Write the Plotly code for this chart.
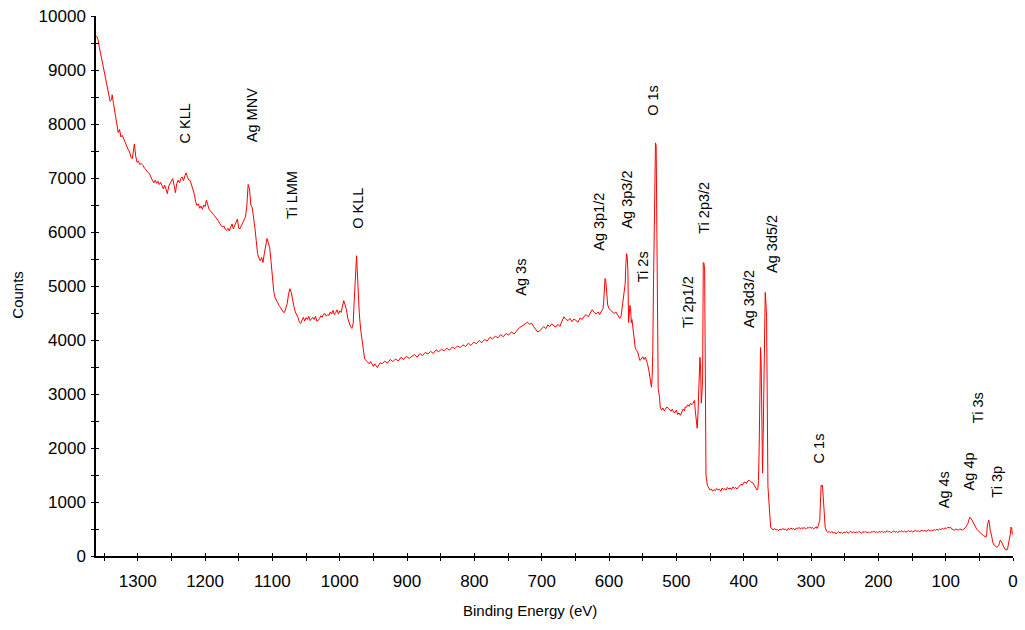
import plotly.graph_objects as go

# XPS survey spectrum: binding energy (eV) and counts
energy = [
    1361, 1359, 1357, 1355, 1353, 1351, 1349, 1347, 1345, 1343, 1341, 1339, 1338, 1336,
    1333, 1331, 1329, 1327, 1325, 1323, 1320, 1318, 1316, 1314, 1312, 1310, 1308, 1306,
    1305, 1303, 1301, 1299, 1297, 1295, 1292, 1290, 1288, 1286, 1284, 1282, 1280, 1278,
    1276, 1274, 1272, 1270, 1268, 1266, 1264, 1262, 1260, 1258, 1256, 1254, 1252, 1250,
    1248, 1246, 1244, 1242, 1240, 1238, 1236, 1234, 1232, 1230, 1228, 1226, 1224, 1222,
    1220, 1218, 1216, 1214, 1212, 1210, 1208, 1206, 1204, 1202, 1200, 1198, 1196, 1194,
    1192, 1190, 1188, 1186, 1184, 1182, 1180, 1178, 1176, 1174, 1172, 1170, 1168, 1166,
    1164, 1162, 1160, 1158, 1156, 1154, 1152, 1150, 1148, 1146, 1144, 1142, 1140, 1138,
    1137, 1136, 1134, 1132, 1130, 1128, 1126, 1124, 1122, 1120, 1118, 1116, 1114, 1112,
    1110, 1108, 1106, 1104, 1102, 1100, 1098, 1096, 1094, 1092, 1090, 1088, 1086, 1084,
    1082, 1080, 1078, 1076, 1074, 1072, 1070, 1068, 1066, 1064, 1062, 1060, 1058, 1056,
    1054, 1052, 1050, 1048, 1046, 1044, 1042, 1040, 1038, 1036, 1034, 1032, 1030, 1028,
    1026, 1024, 1022, 1020, 1018, 1016, 1014, 1012, 1010, 1008, 1006, 1004, 1002, 1000,
    998, 996, 994, 992, 990, 988, 986, 984, 982, 980, 979, 977, 976, 975, 974, 973,
    971, 969, 967, 965, 963, 961, 958, 956, 954, 952, 950, 948, 946, 944, 942, 940,
    937, 933, 929, 925, 921, 917, 913, 909, 905, 901, 897, 893, 889, 885, 881, 877,
    873, 869, 865, 861, 857, 853, 849, 845, 841, 837, 833, 829, 825, 821, 817, 813,
    809, 805, 801, 797, 793, 789, 785, 781, 777, 773, 769, 765, 761, 757, 753, 749,
    745, 741, 737, 733, 729, 725, 721, 718, 715, 712, 709, 706, 703, 700, 697, 694,
    691, 688, 685, 682, 679, 676, 673, 670, 667, 664, 661, 658, 655, 652, 649, 646,
    643, 640, 637, 634, 631, 628, 625, 622, 619, 616, 614, 611, 609, 608, 607, 606,
    605, 604, 602, 600, 598, 596, 594, 592, 590, 588, 586, 584, 582, 581, 579, 578,
    576, 575, 574, 573, 572, 571, 570, 569, 568, 567, 566, 564, 562, 561, 559, 557,
    556, 554, 552, 550, 548, 546, 544, 543, 541, 539, 538, 537, 536, 535, 534, 533,
    532, 531, 530, 529, 528, 527, 525, 524, 522, 520, 518, 516, 514, 512, 510, 508,
    506, 504, 502, 500, 498, 496, 494, 492, 490, 488, 487, 485, 483, 481, 479, 477,
    475, 474, 473, 472, 471, 470, 469, 468, 467, 466, 465, 464, 463, 462, 461, 460,
    459, 458, 457, 456, 454, 452, 450, 448, 446, 444, 442, 440, 438, 436, 434, 432,
    430, 428, 426, 424, 422, 420, 418, 416, 414, 412, 410, 408, 406, 404, 402, 400,
    398, 396, 394, 392, 390, 388, 386, 384, 382, 381, 380, 379, 378, 377, 376, 375,
    374, 373, 372, 371, 370, 369, 368, 367, 366, 364, 362, 360, 358, 356, 354, 352,
    350, 348, 346, 344, 342, 340, 338, 336, 334, 332, 330, 328, 326, 324, 322, 320,
    318, 316, 314, 312, 310, 308, 306, 304, 302, 300, 298, 296, 294, 292, 291, 290,
    289, 288, 287, 286, 285, 284, 283, 281, 279, 277, 275, 273, 271, 269, 267, 265,
    263, 261, 259, 257, 255, 253, 251, 249, 247, 245, 243, 241, 239, 237, 235, 233,
    231, 229, 227, 225, 223, 221, 219, 217, 215, 213, 211, 209, 207, 205, 203, 201,
    199, 197, 195, 193, 191, 189, 187, 185, 183, 181, 179, 177, 175, 173, 171, 169,
    167, 165, 163, 161, 159, 157, 155, 153, 151, 149, 147, 145, 143, 141, 139, 137,
    135, 133, 131, 129, 127, 125, 123, 121, 119, 117, 115, 113, 111, 109, 107, 105,
    103, 101, 99, 97, 95, 93, 91, 89, 87, 85, 83, 81, 79, 77, 75, 73,
    71, 69, 67, 66, 65, 64, 62, 60, 58, 56, 54, 52, 50, 48, 46, 44,
    42, 41, 40, 39, 38, 37, 36, 35, 34, 32, 30, 28, 26, 24, 22, 21,
    20, 19, 17, 15, 13, 12, 10, 9, 8, 7, 6, 5, 4, 3, 2, 1,
]

counts = [
    9630, 9560, 9420, 9300, 9200, 9020, 8950, 8820, 8650, 8560, 8420, 8450, 8540, 8380,
    8150, 8060, 7840, 7900, 7760, 7790, 7700, 7620, 7590, 7520, 7480, 7380, 7360, 7520,
    7630, 7400, 7290, 7310, 7250, 7270, 7230, 7180, 7160, 7120, 7100, 7060, 6990, 6950,
    6910, 6960, 6900, 6940, 6880, 6920, 6860, 6800, 6870, 6760, 6710, 6850, 6900, 6930,
    6990, 6860, 6730, 6900, 6960, 6910, 6990, 7020, 6950, 7040, 7095, 7010, 6960, 6950,
    6880, 6800, 6700, 6560, 6490, 6520, 6440, 6480, 6420, 6500, 6470, 6590, 6500, 6420,
    6390, 6350, 6330, 6300, 6270, 6240, 6200, 6150, 6120, 6090, 6110, 6050, 6030, 6070,
    6020, 6080, 6150, 6060, 6110, 6180, 6240, 6070, 6060, 6120, 6170, 6200, 6280, 6480,
    6700, 6880, 6800, 6500, 6450, 6300, 6080, 5840, 5600, 5520, 5470, 5530, 5435, 5600,
    5720, 5880, 5800, 5710, 5450, 5155, 4900, 4785, 4730, 4690, 4640, 4600, 4560, 4520,
    4510, 4580, 4675, 4850, 4950, 4880, 4730, 4620, 4520, 4480, 4420, 4330, 4305, 4370,
    4420, 4350, 4415, 4380, 4440, 4360, 4400, 4420, 4380, 4440, 4350, 4360, 4400, 4450,
    4420, 4480, 4490, 4440, 4470, 4455, 4520, 4480, 4550, 4470, 4510, 4560, 4480, 4540,
    4510, 4620, 4730, 4650, 4560, 4400, 4305, 4250, 4215, 4300, 4600, 5100, 5525, 5560,
    5300, 4970, 4500, 4200, 4000, 3750, 3650, 3620, 3580, 3560, 3600, 3540, 3510, 3560,
    3520, 3490, 3540, 3580, 3560, 3610, 3570, 3640, 3600, 3650, 3610, 3680, 3640, 3700,
    3660, 3690, 3730, 3680, 3750, 3710, 3770, 3740, 3790, 3750, 3820, 3780, 3830, 3800,
    3850, 3810, 3870, 3840, 3890, 3860, 3910, 3880, 3940, 3900, 3960, 3930, 3990, 3950,
    4010, 3980, 4050, 4020, 4070, 4040, 4100, 4060, 4120, 4090, 4150, 4110, 4180, 4230,
    4260, 4300, 4330, 4290, 4310, 4250, 4190, 4150, 4170, 4220, 4250, 4210, 4280, 4250,
    4300, 4260, 4240, 4290, 4250, 4350, 4430, 4380, 4360, 4400, 4340, 4390, 4360, 4330,
    4410, 4380, 4440, 4470, 4430, 4500, 4560, 4510, 4480, 4520, 4470, 4540, 4580, 4700,
    4860, 5140, 5120, 4900, 4650, 4580, 4550, 4540, 4510, 4490, 4520, 4480, 4430, 4400,
    4450, 4550, 4695, 4900, 5045, 5400, 5600, 5550, 5285, 4325, 4500, 4640, 4600, 4320,
    4380, 4150, 3935, 3850, 3805, 3760, 3700, 3620, 3650, 3690, 3640, 3680, 3600, 3565,
    3450, 3310, 3200, 3125, 3300, 3810, 5000, 6210, 6800, 7650, 7600, 6155, 3490, 3100,
    2940, 2760, 2700, 2740, 2690, 2720, 2760, 2735, 2700, 2680, 2720, 2660, 2660, 2700,
    2620, 2650, 2605, 2680, 2720, 2690, 2760, 2755, 2800, 2770, 2830, 2800, 2830, 2870,
    2880, 2700, 2550, 2460, 2365, 2600, 3100, 3565, 3680, 3500, 2830, 3000, 3300, 5435,
    5420, 5300, 2830, 1500, 1310, 1250, 1220, 1240, 1200, 1230, 1210, 1250, 1220, 1240,
    1200, 1260, 1230, 1250, 1220, 1270, 1240, 1260, 1230, 1280, 1250, 1270, 1240, 1275,
    1300, 1330, 1310, 1360, 1370, 1340, 1390, 1405, 1380, 1360, 1350, 1300, 1260, 1230,
    1220, 1250, 1400, 2015, 3200, 3860, 3560, 2500, 1535, 2270, 3500, 4400, 4880, 4700,
    4415, 1290, 800, 535, 500, 480, 510, 480, 490, 470, 500, 480, 510, 490, 500, 470,
    510, 490, 520, 495, 510, 480, 520, 500, 530, 505, 520, 510, 530, 500, 525, 515,
    540, 510, 530, 505, 520, 540, 510, 530, 560, 620, 665, 1000, 1310, 1290, 1310, 900,
    535, 460, 440, 450, 430, 455, 420, 445, 410, 430, 450, 425, 440, 415, 445, 430,
    455, 420, 440, 460, 430, 450, 425, 445, 430, 455, 440, 420, 450, 435, 460, 430,
    445, 425, 450, 440, 465, 435, 450, 430, 455, 440, 460, 435, 450, 440, 470, 445,
    455, 430, 450, 465, 440, 455, 435, 460, 450, 470, 445, 460, 440, 455, 470, 450,
    465, 445, 460, 475, 455, 470, 450, 465, 480, 460, 475, 455, 470, 485, 465, 480,
    470, 490, 475, 495, 480, 500, 490, 510, 500, 520, 510, 530, 520, 535, 500, 490,
    480, 500, 485, 480, 500, 490, 480, 500, 520, 560, 600, 650, 700, 720, 690, 640,
    580, 536, 500, 470, 440, 425, 400, 380, 350, 355, 350, 420, 575, 640, 665, 600,
    480, 390, 250, 200, 180, 165, 180, 200, 250, 295, 260, 190, 150, 130, 110, 110,
    140, 200, 260, 295, 400, 535, 520, 400, 200, 110,
]

# Peak assignments and where each label sits
peak_names = [
    "C KLL", "Ag MNV", "Ti LMM", "O KLL", "Ag 3s", "Ag 3p1/2", "Ag 3p3/2", "Ti 2s",
    "O 1s", "Ti 2p3/2", "Ti 2p1/2", "Ag 3d3/2", "Ag 3d5/2", "C 1s", "Ag 4s", "Ag 4p",
    "Ti 3s", "Ti 3p",
]
peak_energy = [1230, 1130, 1072, 973, 731, 616, 573, 549, 535, 459, 483, 391, 359, 288, 103, 66, 53, 24]
peak_label_counts = [7600, 7630, 6210, 6030, 4790, 5620, 6030, 5030, 8120, 5930, 4180, 4180, 5210, 1680, 850, 1170, 2420, 1040]

x_range = [1362, 0]
y_range = [0, 10000]

AXIS_FONT = dict(family="Liberation Sans, Arial, sans-serif", size=17, color="#000000")
LABEL_FONT = dict(family="Liberation Sans, Arial, sans-serif", size=14.5, color="#000000")
TITLE_FONT = dict(family="Liberation Sans, Arial, sans-serif", size=15, color="#000000")

fig = go.Figure()

fig.add_trace(go.Scatter(
    x=energy, y=counts, mode="lines",
    line=dict(color="#ff0000", width=1),
    showlegend=False, hoverinfo="x+y",
))

# empty trace that activates the overlay axes carrying the inner tick halves
fig.add_trace(go.Scatter(
    x=[None], y=[None], xaxis="x2", yaxis="y2",
    showlegend=False, hoverinfo="skip",
))

for name, e, c in zip(peak_names, peak_energy, peak_label_counts):
    fig.add_annotation(
        x=e, y=c, xref="x", yref="y", text=name, showarrow=False,
        textangle=-90, xanchor="center", yanchor="bottom",
        font=LABEL_FONT,
    )

fig.add_annotation(
    x=-0.085, y=0.484, xref="paper", yref="paper", text="Counts",
    showarrow=False, textangle=-90, xanchor="center", yanchor="middle",
    font=TITLE_FONT,
)
fig.add_annotation(
    x=0.473, y=-0.10, xref="paper", yref="paper", text="Binding Energy (eV)",
    showarrow=False, xanchor="center", yanchor="middle",
    font=TITLE_FONT,
)

common_axis = dict(
    showgrid=False, zeroline=False, linecolor="#000000", linewidth=1.5,
    ticks="outside", ticklen=3, tickwidth=1.3, tickcolor="#000000",
    tickfont=AXIS_FONT, tickformat="d",
)

fig.update_layout(
    width=1025, height=630,
    margin=dict(l=96, r=7, t=15, b=74),
    paper_bgcolor="white", plot_bgcolor="white",
    xaxis=dict(
        range=x_range, dtick=100, tick0=0, showline=True,
        minor=dict(dtick=50, ticks="outside", ticklen=3, tickwidth=1.3, tickcolor="#000000"),
        ticklabelstandoff=6,
        **common_axis,
    ),
    yaxis=dict(
        range=y_range, dtick=1000, tick0=0, showline=True,
        minor=dict(dtick=500, ticks="outside", ticklen=3, tickwidth=1.3, tickcolor="#000000"),
        ticklabelstandoff=2,
        **common_axis,
    ),
    xaxis2=dict(
        range=x_range, overlaying="x", anchor="y", side="bottom",
        dtick=50, tick0=0, ticks="inside", ticklen=3, tickwidth=1.3, tickcolor="#000000",
        showticklabels=False, showgrid=False, zeroline=False, showline=False,
    ),
    yaxis2=dict(
        range=y_range, overlaying="y", anchor="x", side="left",
        dtick=500, tick0=0, ticks="inside", ticklen=3, tickwidth=1.3, tickcolor="#000000",
        showticklabels=False, showgrid=False, zeroline=False, showline=False,
    ),
)

fig.write_html("out.html")
